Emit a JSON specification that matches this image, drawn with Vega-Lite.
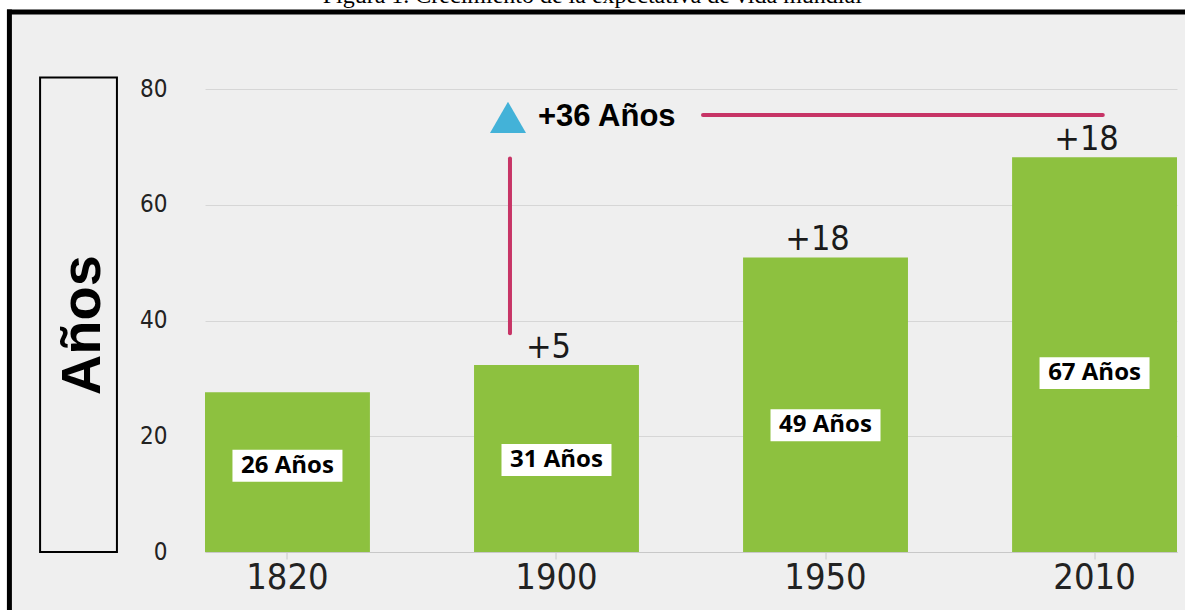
{
  "$schema": "https://vega.github.io/schema/vega-lite/v6.json",
  "autosize": "none",
  "width": 1175.5,
  "height": 598,
  "padding": {"left": 9.5, "top": 12, "right": 0, "bottom": 0},
  "background": "white",
  "title": {
    "text": "Figura 1. Crecimiento de la expectativa de vida mundial",
    "font": "Liberation Serif",
    "fontSize": 24,
    "fontWeight": "normal",
    "color": "black",
    "offset": 4,
    "baseline": "alphabetic",
    "dy": 23,
    "dx": -5
  },
  "config": {
    "view": {"fill": "#efefef", "stroke": null}
  },
  "data": {
    "values": [
      {"year": "1820", "value": 27.6, "label": "26 Años", "labelY": 14.9, "inc": ""},
      {"year": "1900", "value": 32.3, "label": "31 Años", "labelY": 15.9, "inc": "+5"},
      {"year": "1950", "value": 50.9, "label": "49 Años", "labelY": 21.9, "inc": "+18"},
      {"year": "2010", "value": 68.2, "label": "67 Años", "labelY": 30.9, "inc": "+18"}
    ]
  },
  "layer": [
    {
      "mark": {"type": "bar", "color": "#8dc13f"},
      "encoding": {
        "x": {
          "field": "year", "type": "nominal",
          "scale": {"range": [195.5, 1167.5], "paddingInner": 0.387, "paddingOuter": 0},
          "axis": {"orient": "bottom", "offset": -58, "title": null, "labelAngle": 0, "domainColor": "#c8c8c8", "domainWidth": 1, "tickColor": "#c8c8c8", "tickSize": 7, "labelFont": "DejaVu Sans Condensed, Roboto Condensed, Roboto, sans-serif", "labelFontSize": 36, "labelColor": "#222222", "labelPadding": 1, "grid": false}
        },
        "y": {
          "field": "value", "type": "quantitative",
          "scale": {"domain": [0, 80], "range": [540, 77], "nice": false, "zero": true},
          "axis": {"orient": "left", "offset": -195.5, "title": null, "domain": false, "ticks": false, "labelPadding": 38, "labelFont": "DejaVu Sans Condensed, Roboto Condensed, Roboto, sans-serif", "labelFontSize": 24, "labelColor": "#222222", "values": [0, 20, 40, 60, 80], "grid": true, "gridColor": "#d6d6d6", "gridWidth": 1}
        }
      }
    },
    {
      "mark": {"type": "point", "shape": "M-1,-0.29H1V0.29H-1Z", "filled": true, "color": "white", "opacity": 1, "size": 12100, "strokeWidth": 0},
      "encoding": {
        "x": {"field": "year", "type": "nominal"},
        "y": {"field": "labelY", "type": "quantitative"}
      }
    },
    {
      "mark": {"type": "text", "font": "Open Sans", "fontSize": 24, "fontWeight": "bold", "color": "black", "baseline": "middle", "align": "center"},
      "encoding": {
        "x": {"field": "year", "type": "nominal"},
        "y": {"field": "labelY", "type": "quantitative"},
        "text": {"field": "label"}
      }
    },
    {
      "mark": {"type": "text", "font": "DejaVu Sans Condensed, Roboto Condensed, Roboto, sans-serif", "fontSize": 34, "color": "#1a1a1a", "baseline": "alphabetic", "align": "center", "dy": -7, "dx": -8},
      "encoding": {
        "x": {"field": "year", "type": "nominal"},
        "y": {"field": "value", "type": "quantitative"},
        "text": {"field": "inc"}
      }
    },
    {
      "data": {"values": [{"name": "anotaciones"}]},
      "layer": [
        {
          "mark": {"type": "rule", "color": "black", "strokeWidth": 5, "strokeCap": "square", "clip": false},
          "encoding": {
            "y": {"datum": 93.3, "type": "quantitative"}
          }
        },
        {
          "mark": {"type": "rule", "color": "black", "strokeWidth": 5, "strokeCap": "square", "clip": false},
          "encoding": {
            "x": {"datum": "1820", "type": "nominal", "bandPosition": -1.186}
          }
        },
        {
          "mark": {"type": "rect", "fill": null, "stroke": "black", "strokeWidth": 2},
          "encoding": {
            "x": {"datum": "1820", "type": "nominal", "bandPosition": -1.0},
            "x2": {"datum": "1820", "bandPosition": -0.534},
            "y": {"datum": 0, "type": "quantitative"},
            "y2": {"datum": 82}
          }
        },
        {
          "mark": {"type": "text", "text": "Años", "angle": 270, "font": "Liberation Sans", "fontSize": 56, "fontWeight": "bold", "baseline": "alphabetic", "align": "center", "color": "black"},
          "encoding": {
            "x": {"datum": "1820", "type": "nominal", "bandPosition": -0.637},
            "y": {"datum": 39.2, "type": "quantitative"}
          }
        },
        {
          "mark": {"type": "rule", "color": "#c73466", "strokeWidth": 4, "strokeCap": "round"},
          "encoding": {
            "x": {"datum": "1900", "type": "nominal", "bandPosition": 0.218},
            "y": {"datum": 37.8, "type": "quantitative"},
            "y2": {"datum": 68.0}
          }
        },
        {
          "mark": {"type": "rule", "color": "#c73466", "strokeWidth": 4, "strokeCap": "round"},
          "encoding": {
            "x": {"datum": "1950", "type": "nominal", "bandPosition": -0.243},
            "x2": {"datum": "2010", "bandPosition": 0.55},
            "y": {"datum": 75.5, "type": "quantitative"}
          }
        },
        {
          "mark": {"type": "point", "shape": "triangle-up", "filled": true, "color": "#43b2d8", "opacity": 1, "size": 1296, "strokeWidth": 0},
          "encoding": {
            "x": {"datum": "1900", "type": "nominal", "bandPosition": 0.206},
            "y": {"datum": 75.1, "type": "quantitative"}
          }
        },
        {
          "mark": {"type": "text", "text": "+36 Años", "font": "Liberation Sans", "fontSize": 31, "fontWeight": "bold", "color": "black", "align": "left", "baseline": "middle"},
          "encoding": {
            "x": {"datum": "1900", "type": "nominal", "bandPosition": 0.388},
            "y": {"datum": 75.1, "type": "quantitative"}
          }
        }
      ]
    }
  ]
}
